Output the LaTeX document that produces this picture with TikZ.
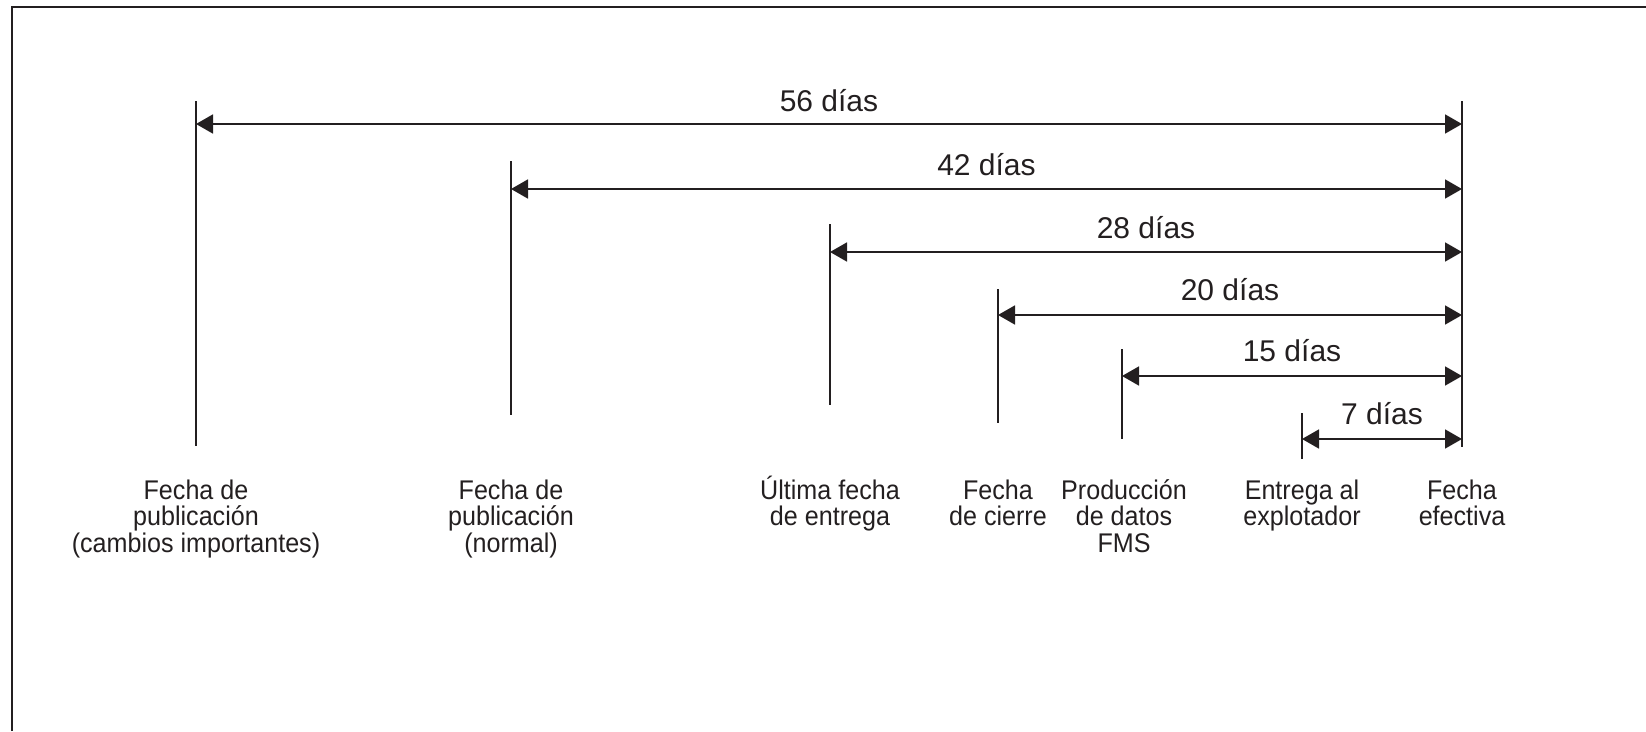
\documentclass[tikz,border=0pt]{standalone}
\usepackage{fontspec}
\setmainfont{Liberation Sans}
\newfontfamily\narrowfont[FakeStretch=0.93]{Liberation Sans}
\usetikzlibrary{arrows.meta}
\definecolor{ink}{HTML}{231F20}
\newcommand{\labfont}{\narrowfont\fontsize{27}{26.5}\selectfont\lineskiplimit=-50pt\relax}
\tikzset{
  frameline/.style={line width=2.4pt, draw=ink},
  tick/.style={line width=2pt, draw=ink},
  span/.style={line width=1.8pt, draw=ink,
    {Triangle[length=17pt,width=19pt]}-{Triangle[length=17pt,width=19pt]}},
  dur/.style={font=\fontsize{30}{32}\selectfont, text=ink, anchor=base, inner sep=0pt},
  lab/.style={font=\labfont, text=ink, align=center, anchor=north, inner sep=0pt}
}
\newcommand{\fl}{\rule{0pt}{28pt}}
\begin{document}
\begin{tikzpicture}[x=1pt,y=-1pt]
\useasboundingbox (0,0) rectangle (1646,731);
% frame
\coordinate (fbl) at (12,731);
\coordinate (ftl) at (12,7);
\coordinate (ftr) at (1646,7);
\draw[frameline] (fbl) -- (ftl) -- (ftr);

% vertical ticks
\coordinate (t1) at (196,101);  \coordinate (b1) at (196,446);
\coordinate (t2) at (511,161);  \coordinate (b2) at (511,415);
\coordinate (t3) at (830,224);  \coordinate (b3) at (830,405);
\coordinate (t4) at (998,289);  \coordinate (b4) at (998,423);
\coordinate (t5) at (1122,349); \coordinate (b5) at (1122,439);
\coordinate (t6) at (1302,413); \coordinate (b6) at (1302,459);
\coordinate (tR) at (1462,101); \coordinate (bR) at (1462,447);
\foreach \i in {1,2,3,4,5,6,R} \draw[tick] (t\i) -- (b\i);

% spans
\coordinate (s1) at (196,124);  \coordinate (e1) at (1462,124);
\coordinate (s2) at (511,189);  \coordinate (e2) at (1462,189);
\coordinate (s3) at (830,252);  \coordinate (e3) at (1462,252);
\coordinate (s4) at (998,315);  \coordinate (e4) at (1462,315);
\coordinate (s5) at (1122,376); \coordinate (e5) at (1462,376);
\coordinate (s6) at (1302,439); \coordinate (e6) at (1462,439);
\draw[span] (s1) -- (e1) node[dur, midway, yshift=13pt] (d1) {56 días};
\draw[span] (s2) -- (e2) node[dur, midway, yshift=14pt] (d2) {42 días};
\draw[span] (s3) -- (e3) node[dur, midway, yshift=14pt] (d3) {28 días};
\draw[span] (s4) -- (e4) node[dur, midway, yshift=15pt] (d4) {20 días};
\draw[span] (s5) -- (e5) node[dur, midway, yshift=15pt] (d5) {15 días};
\draw[span] (s6) -- (e6) node[dur, midway, yshift=15pt] (d6) {7 días};

% bottom labels
\node[lab] (l1) at (196,471) {\fl Fecha de\\publicación\\(cambios importantes)};
\node[lab] (l2) at (511,471) {\fl Fecha de\\publicación\\(normal)};
\node[lab] (l3) at (830,471) {\fl Última fecha\\de entrega};
\node[lab] (l4) at (998,471) {\fl Fecha\\de cierre};
\node[lab] (l5) at (1124,471) {\fl Producción\\de datos\\FMS};
\node[lab] (l6) at (1302,471) {\fl Entrega al\\explotador};
\node[lab] (l7) at (1462,471) {\fl Fecha\\efectiva};
\end{tikzpicture}
\end{document}
